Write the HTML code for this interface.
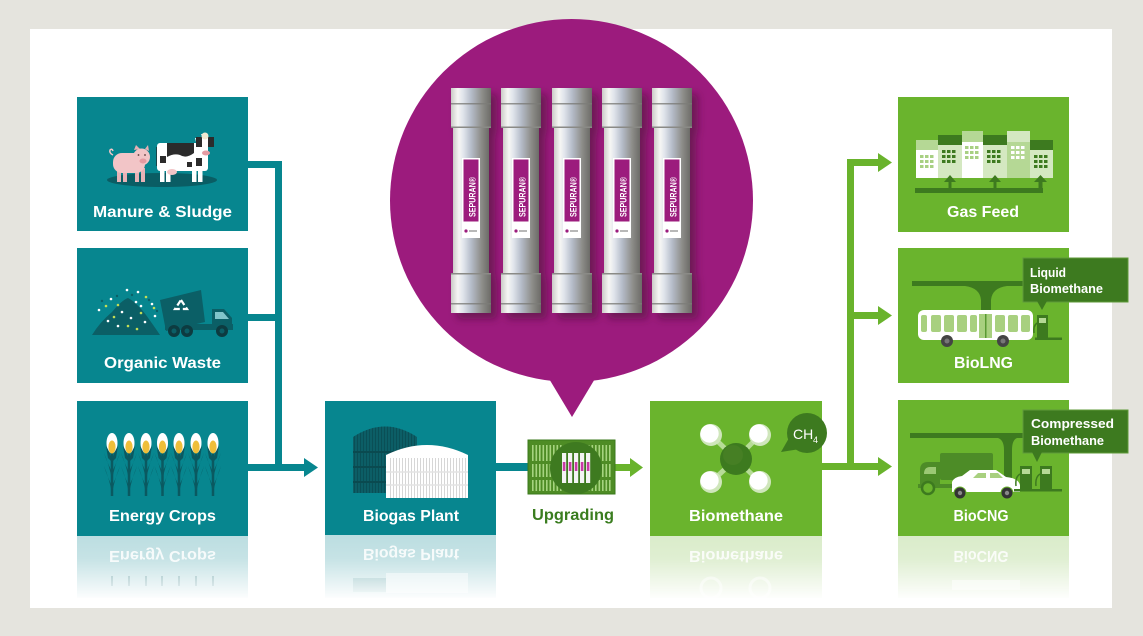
<!DOCTYPE html>
<html><head><meta charset="utf-8">
<style>
html,body{margin:0;padding:0;background:#e5e4de;}
svg{display:block}
text{font-family:"Liberation Sans",Arial,sans-serif;font-weight:bold;}
</style></head><body>
<svg width="1143" height="636" viewBox="0 0 1143 636" xmlns="http://www.w3.org/2000/svg">
<defs>
 <linearGradient id="metal" x1="0" x2="1" y1="0" y2="0">
  <stop offset="0" stop-color="#cbcbc7"/>
  <stop offset="0.17" stop-color="#f6f6f4"/>
  <stop offset="0.3" stop-color="#e0e4eb"/>
  <stop offset="0.5" stop-color="#b6bdca"/>
  <stop offset="0.78" stop-color="#8d8d89"/>
  <stop offset="1" stop-color="#6c6b67"/>
 </linearGradient>
 <linearGradient id="fade" x1="0" y1="0" x2="0" y2="1">
  <stop offset="0" stop-color="#fff" stop-opacity="0"/>
  <stop offset="0.35" stop-color="#fff" stop-opacity="0.15"/>
  <stop offset="1" stop-color="#fff" stop-opacity="1"/>
 </linearGradient>
 <filter id="sh" x="-40%" y="-10%" width="180%" height="130%">
  <feDropShadow dx="6" dy="6" stdDeviation="4" flood-color="#4a0838" flood-opacity="0.55"/>
 </filter>
 <pattern id="vdark" width="3" height="10" patternUnits="userSpaceOnUse">
  <rect x="0" y="0" width="1" height="10" fill="#0a4f56"/>
 </pattern>
 <pattern id="vwhite" width="3" height="10" patternUnits="userSpaceOnUse">
  <rect x="0" y="0" width="1" height="10" fill="#d6d6d6"/>
 </pattern>
 <pattern id="vgreen" width="3.5" height="10" patternUnits="userSpaceOnUse">
  <rect x="0" y="0" width="1.6" height="10" fill="#a6d47f"/>
 </pattern>
 <g id="corn">
  <path d="M0,452 V496" stroke="#0b5960" stroke-width="2.5" fill="none"/>
  <path d="M0,472 Q-5,462 -8,453 Q-3,464 0,480Z" fill="#0b5960"/>
  <path d="M0,472 Q5,462 8,453 Q3,464 0,480Z" fill="#0b5960"/>
  <path d="M0,486 Q-5,476 -8,466 Q-3,478 0,493Z" fill="#0b5960"/>
  <path d="M0,486 Q5,476 8,466 Q3,478 0,493Z" fill="#0b5960"/>
  <ellipse cx="0" cy="443" rx="5.5" ry="10" fill="#ffffff"/>
  <ellipse cx="0" cy="447" rx="3.6" ry="6.5" fill="#efbe3a"/>
  <path d="M-6,446 Q-2,452 0,460 Q2,452 6,446 L4,458 L0,462 L-4,458Z" fill="#0b5960"/>
 </g>
 <g id="tube">
  <rect x="2" y="40" width="36" height="145" fill="url(#metal)"/>
  <rect x="0" y="0" width="40" height="40" fill="url(#metal)"/>
  <rect x="0" y="15" width="40" height="1.5" fill="#7c7c78" opacity="0.8"/>
  <rect x="0" y="38.5" width="40" height="1.5" fill="#8a8a86"/>
  <rect x="0" y="185" width="40" height="40" fill="url(#metal)"/>
  <rect x="0" y="185" width="40" height="1.5" fill="#8a8a86"/>
  <rect x="0" y="215" width="40" height="1.5" fill="#7c7c78" opacity="0.8"/>
  <rect x="11" y="70" width="18" height="80" fill="#ffffff"/>
  <rect x="12.5" y="71.5" width="15" height="62" fill="#9c1b7d"/>
  <circle cx="15" cy="143" r="1.6" fill="#9c1b7d"/>
  <rect x="18" y="142.3" width="8" height="1.4" fill="#999"/>
 </g>
</defs>

<rect width="1143" height="636" fill="#e5e4de"/>
<rect x="30" y="29" width="1082" height="579" fill="#ffffff"/>

<!-- ===== Purple bubble ===== -->
<circle cx="571.5" cy="200.5" r="181.5" fill="#9c1b7d"/>
<polygon points="545,372 599,372 572,417" fill="#9c1b7d"/>
<g filter="url(#sh)">
 <use href="#tube" x="451" y="88"/>
 <use href="#tube" x="501" y="88"/>
 <use href="#tube" x="552" y="88"/>
 <use href="#tube" x="602" y="88"/>
 <use href="#tube" x="652" y="88"/>
</g>
<g fill="#ffffff" font-size="9" style="font-weight:normal">
 <text transform="translate(475.5,197) rotate(-90)" text-anchor="middle" textLength="40" lengthAdjust="spacingAndGlyphs">SEPURAN®</text>
 <text transform="translate(525.5,197) rotate(-90)" text-anchor="middle" textLength="40" lengthAdjust="spacingAndGlyphs">SEPURAN®</text>
 <text transform="translate(576.5,197) rotate(-90)" text-anchor="middle" textLength="40" lengthAdjust="spacingAndGlyphs">SEPURAN®</text>
 <text transform="translate(626.5,197) rotate(-90)" text-anchor="middle" textLength="40" lengthAdjust="spacingAndGlyphs">SEPURAN®</text>
 <text transform="translate(676.5,197) rotate(-90)" text-anchor="middle" textLength="40" lengthAdjust="spacingAndGlyphs">SEPURAN®</text>
</g>

<!-- ===== Connectors ===== -->
<g fill="#07868f">
 <rect x="248" y="161" width="34" height="7"/>
 <rect x="275" y="161" width="7" height="310"/>
 <rect x="248" y="314" width="34" height="7"/>
 <rect x="248" y="464" width="58" height="7"/>
 <polygon points="304,458 318,467.5 304,477"/>
 <rect x="496" y="463" width="33" height="8"/>
</g>
<g fill="#69b32c">
 <rect x="614" y="464" width="17" height="7"/>
 <polygon points="630,458 643,467.5 630,477"/>
 <rect x="822" y="463" width="57" height="7"/>
 <polygon points="878,457 892,466.5 878,476"/>
 <rect x="847" y="159" width="7" height="311"/>
 <rect x="847" y="159" width="32" height="7"/>
 <polygon points="878,153 892,162.5 878,172"/>
 <rect x="847" y="312" width="32" height="7"/>
 <polygon points="878,306 892,315.5 878,325"/>
</g>

<!-- ===== Reflections ===== -->
<g>
 <rect x="77" y="536" width="171" height="62" fill="#bcdee1"/>
 <rect x="325" y="535" width="171" height="63" fill="#bcdee1"/>
 <rect x="650" y="536" width="172" height="62" fill="#daecca"/>
 <rect x="898" y="536" width="171" height="62" fill="#daecca"/>
 <g fill="#ffffff" font-size="16" opacity="0.85">
  <text transform="translate(0,1072) scale(1,-1)" x="162.5" y="521" text-anchor="middle" textLength="107" lengthAdjust="spacingAndGlyphs">Energy Crops</text>
  <text transform="translate(0,1070) scale(1,-1)" x="411" y="521" text-anchor="middle" textLength="96" lengthAdjust="spacingAndGlyphs">Biogas Plant</text>
  <text transform="translate(0,1072) scale(1,-1)" x="736" y="521" text-anchor="middle" textLength="94" lengthAdjust="spacingAndGlyphs">Biomethane</text>
  <text transform="translate(0,1072) scale(1,-1)" x="981" y="521" text-anchor="middle" textLength="55" lengthAdjust="spacingAndGlyphs">BioCNG</text>
 </g>
 <g opacity="0.5">
  <g stroke="#0b5960" stroke-width="1.5">
   <line x1="112" y1="576" x2="112" y2="586"/><line x1="129" y1="576" x2="129" y2="586"/>
   <line x1="146" y1="576" x2="146" y2="586"/><line x1="162" y1="576" x2="162" y2="586"/>
   <line x1="179" y1="576" x2="179" y2="586"/><line x1="196" y1="576" x2="196" y2="586"/>
   <line x1="213" y1="576" x2="213" y2="586"/>
  </g>
  <rect x="353" y="578" width="33" height="14" fill="#5a9aa0"/>
  <rect x="386" y="573" width="82" height="20" fill="#ffffff"/>
  <circle cx="711" cy="588" r="10" fill="none" stroke="#ffffff" stroke-width="3"/>
  <circle cx="760" cy="588" r="10" fill="none" stroke="#ffffff" stroke-width="3"/>
  <rect x="952" y="580" width="68" height="10" fill="#ffffff"/>
 </g>
 <rect x="70" y="536" width="1010" height="64" fill="url(#fade)"/>
</g>

<!-- ===== Boxes ===== -->
<g fill="#07868f">
 <rect x="77" y="97" width="171" height="134"/>
 <rect x="77" y="248" width="171" height="135"/>
 <rect x="77" y="401" width="171" height="135"/>
 <rect x="325" y="401" width="171" height="134"/>
</g>
<g fill="#6ab42d">
 <rect x="650" y="401" width="172" height="135"/>
 <rect x="898" y="97" width="171" height="135"/>
 <rect x="898" y="248" width="171" height="135"/>
 <rect x="898" y="400" width="171" height="136"/>
</g>

<!-- Manure icon -->
<ellipse cx="162" cy="180" rx="55" ry="7" fill="#0a5d64"/>
<path d="M113,155 q-4,-2 -3,-5 q2,-2 3,1" fill="none" stroke="#f2c5c7" stroke-width="1.5"/>
<rect x="117" y="168" width="4" height="14" fill="#e8b2b6"/>
<rect x="123" y="168" width="4" height="14" fill="#e8b2b6"/>
<rect x="135" y="168" width="4" height="14" fill="#e8b2b6"/>
<rect x="141" y="168" width="4" height="14" fill="#e8b2b6"/>
<rect x="113" y="153" width="32" height="20" rx="9" fill="#f2c5c7"/>
<path d="M134,150 l2,-5 l4,4z M145,149 l3,-4 l1,6z" fill="#e8aeb3"/>
<circle cx="141.5" cy="157" r="8.5" fill="#f2c5c7"/>
<ellipse cx="143" cy="161" rx="3.5" ry="2.5" fill="#e49aa1"/>
<circle cx="138.5" cy="155" r="0.9" fill="#5a3a3a"/>
<circle cx="145" cy="155" r="0.9" fill="#5a3a3a"/>
<line x1="157" y1="147" x2="157" y2="166" stroke="#222" stroke-width="1.3"/>
<rect x="160" y="166" width="4.5" height="16" fill="#fff"/>
<rect x="166" y="166" width="4.5" height="16" fill="#fff"/>
<rect x="192" y="166" width="4.5" height="16" fill="#fff"/>
<rect x="198" y="166" width="4.5" height="16" fill="#fff"/>
<rect x="157" y="143" width="51" height="28" rx="3" fill="#ffffff"/>
<path d="M167,143 h27 v10 q-8,6 -14,2 q-6,-2 -13,2z" fill="#2b2b2b"/>
<rect x="160" y="156" width="6" height="7" fill="#2b2b2b"/>
<rect x="196" y="158" width="6" height="8" fill="#2b2b2b"/>
<rect x="187" y="162" width="5" height="5" fill="#2b2b2b"/>
<ellipse cx="172" cy="172" rx="5" ry="3" fill="#f2c5c7"/>
<path d="M195,138 h8 l-2,-4 h6 l-2,4 h9 l-3,4 h-3 v12 q-4,4 -9,0 v-12 h-3z" fill="#ffffff"/>
<path d="M196,137 h6 v10 h-6z M208,137 h6 v10 h-6z" fill="#2b2b2b"/>
<circle cx="205" cy="136" r="3.5" fill="#f0e8d0"/>
<ellipse cx="206" cy="153" rx="4" ry="2.5" fill="#e59ca3"/>

<!-- Organic waste icon -->
<path d="M92,335 Q100,322 112,312 Q122,300 128,298 Q136,302 146,315 Q154,326 160,335Z" fill="#0b5f66"/>
<g fill="#ffffff">
 <circle cx="111" cy="299" r="1.3"/><circle cx="127" cy="290" r="1.3"/><circle cx="138" cy="292" r="1.3"/>
 <circle cx="99" cy="310" r="1.3"/><circle cx="108" cy="321" r="1.3"/><circle cx="122" cy="312" r="1.3"/>
 <circle cx="131" cy="318" r="1.3"/><circle cx="141" cy="306" r="1.3"/><circle cx="152" cy="304" r="1.3"/>
 <circle cx="118" cy="326" r="1.3"/><circle cx="145" cy="322" r="1.3"/><circle cx="155" cy="316" r="1.3"/>
 <circle cx="136" cy="302" r="1.3"/>
</g>
<g fill="#c2dd55">
 <circle cx="106" cy="306" r="1.3"/><circle cx="118" cy="305" r="1.3"/><circle cx="128" cy="326" r="1.3"/>
 <circle cx="137" cy="329" r="1.3"/><circle cx="146" cy="297" r="1.3"/><circle cx="154" cy="308" r="1.3"/>
 <circle cx="114" cy="317" r="1.3"/><circle cx="141" cy="313" r="1.3"/>
</g>
<g fill="#0b5f66">
 <circle cx="102" cy="301" r="1.2"/><circle cx="117" cy="296" r="1.2"/><circle cx="132" cy="295" r="1.2"/>
 <circle cx="149" cy="300" r="1.2"/><circle cx="157" cy="311" r="1.2"/>
</g>
<path d="M160,300 L201,290 L205,322 L166,331Z" fill="#0b5f66"/>
<path d="M181,300 l6,9 h-12z" fill="none" stroke="#ffffff" stroke-width="2.2" stroke-dasharray="6 3"/>
<rect x="165" y="324" width="68" height="6" fill="#0b5f66"/>
<path d="M212,330 V309 h12 l8,9 v12z" fill="#0b5f66"/>
<path d="M215,312 h8 l6,7 h-14z" fill="#80c5ca"/>
<circle cx="174" cy="331" r="6" fill="#0d3b40"/><circle cx="174" cy="331" r="2.5" fill="#0b5f66"/>
<circle cx="187" cy="331" r="6" fill="#0d3b40"/><circle cx="187" cy="331" r="2.5" fill="#0b5f66"/>
<circle cx="222" cy="331" r="6" fill="#0d3b40"/><circle cx="222" cy="331" r="2.5" fill="#0b5f66"/>

<!-- Energy crops icon -->
<use href="#corn" x="112"/><use href="#corn" x="129"/><use href="#corn" x="146"/>
<use href="#corn" x="162.5"/><use href="#corn" x="179"/><use href="#corn" x="196"/>
<use href="#corn" x="213"/>

<!-- Biogas plant icon -->
<path d="M353,493 V437 Q385,416 417,437 V493Z" fill="#0c5e66"/>
<path d="M353,493 V437 Q385,416 417,437 V493Z" fill="url(#vdark)"/>
<g stroke="#0a4a50" stroke-width="2">
 <line x1="353" y1="452" x2="417" y2="452"/>
 <line x1="353" y1="467" x2="417" y2="467"/>
 <line x1="353" y1="482" x2="417" y2="482"/>
</g>
<path d="M386,498 V455 Q427,435 468,455 V498Z" fill="#ffffff"/>
<rect x="388" y="458" width="78" height="40" fill="url(#vwhite)"/>
<line x1="386" y1="472" x2="468" y2="472" stroke="#e3e3e3" stroke-width="1.5"/>
<line x1="386" y1="485" x2="468" y2="485" stroke="#e3e3e3" stroke-width="1.5"/>

<!-- Upgrading icon -->
<rect x="528" y="440" width="87" height="54" fill="#4e8c25" stroke="#3b7a1c" stroke-width="1"/>
<rect x="531" y="445" width="81" height="16" fill="url(#vgreen)"/>
<rect x="531" y="464" width="81" height="13" fill="url(#vgreen)"/>
<rect x="531" y="480" width="81" height="11" fill="url(#vgreen)"/>
<circle cx="576" cy="468" r="26" fill="#3e7a20"/>
<g fill="#f4f4f4">
 <rect x="562" y="453" width="4.2" height="30"/><rect x="568" y="453" width="4.2" height="30"/>
 <rect x="574" y="453" width="4.2" height="30"/><rect x="580" y="453" width="4.2" height="30"/>
 <rect x="586" y="453" width="4.2" height="30"/>
</g>
<g fill="#c93aa6">
 <rect x="562.8" y="462" width="2.6" height="9"/><rect x="568.8" y="462" width="2.6" height="9"/>
 <rect x="574.8" y="462" width="2.6" height="9"/><rect x="580.8" y="462" width="2.6" height="9"/>
 <rect x="586.8" y="462" width="2.6" height="9"/>
</g>

<!-- Biomethane icon -->
<g stroke="#b7dc97" stroke-width="5">
 <line x1="736" y1="459" x2="711" y2="435"/><line x1="736" y1="459" x2="760" y2="435"/>
 <line x1="736" y1="459" x2="711" y2="482"/><line x1="736" y1="459" x2="760" y2="482"/>
</g>
<circle cx="736" cy="459" r="16" fill="#3d7a1f"/>
<circle cx="733" cy="455" r="10" fill="#467f24"/>
<g>
 <circle cx="711" cy="435" r="11" fill="#cfe6bb"/><circle cx="709.5" cy="433.5" r="9.2" fill="#ffffff"/>
 <circle cx="760" cy="435" r="11" fill="#cfe6bb"/><circle cx="758.5" cy="433.5" r="9.2" fill="#ffffff"/>
 <circle cx="711" cy="482" r="11" fill="#cfe6bb"/><circle cx="709.5" cy="480.5" r="9.2" fill="#ffffff"/>
 <circle cx="760" cy="482" r="11" fill="#cfe6bb"/><circle cx="758.5" cy="480.5" r="9.2" fill="#ffffff"/>
</g>
<polygon points="789,438 800,449 781,452" fill="#3d7a1f"/>
<circle cx="807" cy="433" r="20" fill="#3d7a1f"/>
<text x="793" y="439" font-size="14" fill="#ffffff" style="font-weight:normal">CH</text>
<text x="813" y="443" font-size="9" fill="#ffffff" style="font-weight:normal">4</text>

<!-- Gas Feed icon -->
<rect x="916" y="140" width="22" height="38" fill="#ffffff"/>
<rect x="916" y="140" width="22" height="10" fill="#b5d895"/>
<rect x="938" y="135" width="24" height="43" fill="#d4e8c1"/>
<rect x="938" y="135" width="24" height="10" fill="#3d7a1f"/>
<rect x="962" y="131" width="21" height="47" fill="#ffffff"/>
<rect x="962" y="131" width="21" height="11" fill="#b5d895"/>
<rect x="983" y="135" width="24" height="43" fill="#d4e8c1"/>
<rect x="983" y="135" width="24" height="10" fill="#3d7a1f"/>
<rect x="1007" y="131" width="23" height="47" fill="#b5d895"/>
<rect x="1007" y="131" width="23" height="11" fill="#d4e8c1"/>
<rect x="1030" y="140" width="23" height="38" fill="#d4e8c1"/>
<rect x="1030" y="140" width="23" height="10" fill="#3d7a1f"/>
<g fill="#a8d083">
 <rect x="920" y="155" width="3.5" height="3"/><rect x="925" y="155" width="3.5" height="3"/><rect x="930" y="155" width="3.5" height="3"/>
 <rect x="920" y="160" width="3.5" height="3"/><rect x="925" y="160" width="3.5" height="3"/><rect x="930" y="160" width="3.5" height="3"/>
 <rect x="920" y="165" width="3.5" height="3"/><rect x="925" y="165" width="3.5" height="3"/><rect x="930" y="165" width="3.5" height="3"/>
 <rect x="965" y="146" width="3.5" height="3"/><rect x="970" y="146" width="3.5" height="3"/><rect x="975" y="146" width="3.5" height="3"/>
 <rect x="965" y="151" width="3.5" height="3"/><rect x="970" y="151" width="3.5" height="3"/><rect x="975" y="151" width="3.5" height="3"/>
 <rect x="965" y="156" width="3.5" height="3"/><rect x="970" y="156" width="3.5" height="3"/><rect x="975" y="156" width="3.5" height="3"/>
</g>
<g fill="#ffffff">
 <rect x="1011" y="146" width="3.5" height="3"/><rect x="1016" y="146" width="3.5" height="3"/><rect x="1021" y="146" width="3.5" height="3"/>
 <rect x="1011" y="151" width="3.5" height="3"/><rect x="1016" y="151" width="3.5" height="3"/><rect x="1021" y="151" width="3.5" height="3"/>
 <rect x="1011" y="156" width="3.5" height="3"/><rect x="1016" y="156" width="3.5" height="3"/><rect x="1021" y="156" width="3.5" height="3"/>
</g>
<g fill="#3d7a1f">
 <rect x="942" y="150" width="3.5" height="3"/><rect x="947" y="150" width="3.5" height="3"/><rect x="952" y="150" width="3.5" height="3"/>
 <rect x="942" y="155" width="3.5" height="3"/><rect x="947" y="155" width="3.5" height="3"/><rect x="952" y="155" width="3.5" height="3"/>
 <rect x="942" y="160" width="3.5" height="3"/><rect x="947" y="160" width="3.5" height="3"/><rect x="952" y="160" width="3.5" height="3"/>
 <rect x="987" y="150" width="3.5" height="3"/><rect x="992" y="150" width="3.5" height="3"/><rect x="997" y="150" width="3.5" height="3"/>
 <rect x="987" y="155" width="3.5" height="3"/><rect x="992" y="155" width="3.5" height="3"/><rect x="997" y="155" width="3.5" height="3"/>
 <rect x="987" y="160" width="3.5" height="3"/><rect x="992" y="160" width="3.5" height="3"/><rect x="997" y="160" width="3.5" height="3"/>
 <rect x="1034" y="155" width="3.5" height="3"/><rect x="1039" y="155" width="3.5" height="3"/><rect x="1044" y="155" width="3.5" height="3"/>
 <rect x="1034" y="160" width="3.5" height="3"/><rect x="1039" y="160" width="3.5" height="3"/><rect x="1044" y="160" width="3.5" height="3"/>
 <rect x="1034" y="165" width="3.5" height="3"/><rect x="1039" y="165" width="3.5" height="3"/><rect x="1044" y="165" width="3.5" height="3"/>
 <rect x="915" y="188" width="128" height="5"/>
 <rect x="948.5" y="180" width="3" height="10"/><polygon points="944,182 950,175 956,182"/>
 <rect x="993.5" y="180" width="3" height="10"/><polygon points="989,182 995,175 1001,182"/>
 <rect x="1038.5" y="180" width="4" height="12"/><polygon points="1034,182 1040.5,175 1047,182"/>
</g>

<!-- BioLNG icon -->
<path d="M912,281 H1060 V286 H1007 Q992,288 991,300 V311 H981 V300 Q980,288 965,286 H912Z" fill="#3d7a1f"/>
<rect x="918" y="310" width="115" height="30" rx="6" fill="#ffffff"/>
<g fill="#a8d07f">
 <rect x="921" y="315" width="6" height="17" rx="2"/>
 <rect x="931" y="315" width="10" height="17" rx="2"/>
 <rect x="944" y="315" width="10" height="17" rx="2"/>
 <rect x="957" y="315" width="10" height="17" rx="2"/>
 <rect x="970" y="315" width="7" height="17" rx="2"/>
 <rect x="979" y="314" width="13" height="24"/>
 <rect x="995" y="315" width="10" height="17" rx="2"/>
 <rect x="1008" y="315" width="10" height="17" rx="2"/>
 <rect x="1021" y="315" width="9" height="17" rx="2"/>
</g>
<rect x="985" y="314" width="1.5" height="24" fill="#5a9a33"/>
<circle cx="947" cy="341" r="6" fill="#444"/><circle cx="947" cy="341" r="2.5" fill="#777"/>
<circle cx="1003" cy="341" r="6" fill="#444"/><circle cx="1003" cy="341" r="2.5" fill="#777"/>
<rect x="1037" y="315" width="11" height="24" fill="#3d7a1f"/>
<rect x="1039" y="318" width="7" height="5" fill="#b5d895"/>
<rect x="1035" y="337.5" width="27" height="2.5" fill="#3d7a1f"/>
<path d="M1037,323 q-4,3 -3,10" fill="none" stroke="#3d7a1f" stroke-width="1.5"/>

<!-- BioCNG icon -->
<path d="M910,433 H1060 V438 H1017 Q1012,440 1012,450 V490 H1004 V450 Q1004,440 998,438 H910Z" fill="#3d7a1f"/>
<rect x="940" y="453" width="53" height="27" rx="2" fill="#4d8c27"/>
<path d="M920,488 V470 q0,-8 8,-8 h12 v26z" fill="#4d8c27"/>
<path d="M924,474 q0,-7 6,-7 h6 v7z" fill="#9bc874"/>
<rect x="918" y="484" width="78" height="4" fill="#4d8c27"/>
<circle cx="928" cy="488" r="6" fill="#6ab42d" stroke="#3d7a1f" stroke-width="2.5"/>
<path d="M952,492 V482 q2,-5 10,-6 l8,-6 h26 l10,7 q12,1 14,8 v7z" fill="#ffffff"/>
<path d="M973,478 l5,-5 h8 v5z M990,473 h8 l5,5 h-13z" fill="#a8d07f"/>
<circle cx="960" cy="493" r="6" fill="#333" stroke="#6ab42d" stroke-width="1"/>
<circle cx="960" cy="493" r="2.2" fill="#888"/>
<circle cx="1007" cy="493" r="6" fill="#333" stroke="#6ab42d" stroke-width="1"/>
<circle cx="1007" cy="493" r="2.2" fill="#888"/>
<rect x="1020" y="466" width="12" height="24" fill="#3d7a1f"/>
<rect x="1022" y="469" width="8" height="5" fill="#b5d895"/>
<rect x="1040" y="466" width="12" height="24" fill="#3d7a1f"/>
<rect x="1042" y="469" width="8" height="5" fill="#b5d895"/>
<path d="M1020,474 q-5,3 -4,12 M1040,474 q-5,3 -4,12" fill="none" stroke="#3d7a1f" stroke-width="1.5"/>
<rect x="1014" y="489" width="48" height="2.5" fill="#3d7a1f"/>

<!-- Callouts -->
<rect x="1023" y="258" width="105" height="44" fill="#3d7a1f" stroke="#5f9a3a" stroke-width="1"/>
<polygon points="1037,301 1047,301 1042,310" fill="#3d7a1f"/>
<rect x="1023" y="410" width="105" height="43" fill="#3d7a1f" stroke="#5f9a3a" stroke-width="1"/>
<polygon points="1032,452 1042,452 1037,462" fill="#3d7a1f"/>
<g fill="#ffffff" font-size="12.5">
 <text x="1030" y="277" textLength="36" lengthAdjust="spacingAndGlyphs">Liquid</text>
 <text x="1030" y="293" textLength="73" lengthAdjust="spacingAndGlyphs">Biomethane</text>
 <text x="1031" y="428" textLength="83" lengthAdjust="spacingAndGlyphs">Compressed</text>
 <text x="1031" y="445" textLength="73" lengthAdjust="spacingAndGlyphs">Biomethane</text>
</g>

<!-- Labels -->
<g fill="#ffffff" font-size="16" text-anchor="middle">
 <text x="162.5" y="217" textLength="139" lengthAdjust="spacingAndGlyphs">Manure &amp; Sludge</text>
 <text x="162.5" y="368" textLength="117" lengthAdjust="spacingAndGlyphs">Organic Waste</text>
 <text x="162.5" y="521" textLength="107" lengthAdjust="spacingAndGlyphs">Energy Crops</text>
 <text x="411" y="521" textLength="96" lengthAdjust="spacingAndGlyphs">Biogas Plant</text>
 <text x="736" y="521" textLength="94" lengthAdjust="spacingAndGlyphs">Biomethane</text>
 <text x="983" y="217" textLength="72" lengthAdjust="spacingAndGlyphs">Gas Feed</text>
 <text x="983.5" y="368" textLength="59" lengthAdjust="spacingAndGlyphs">BioLNG</text>
 <text x="981" y="521" textLength="55" lengthAdjust="spacingAndGlyphs">BioCNG</text>
</g>
<text x="573" y="520" font-size="16" fill="#3a7d1f" text-anchor="middle" textLength="82" lengthAdjust="spacingAndGlyphs">Upgrading</text>
</svg>
</body></html>
